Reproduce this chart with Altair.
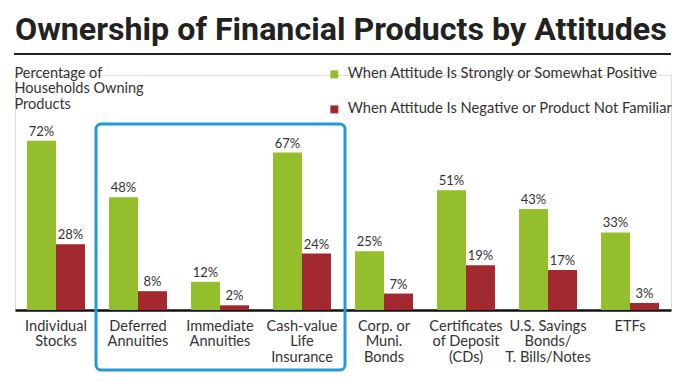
import json
import altair as alt
import pandas as pd

# ---- data ----
categories = [
    "Individual Stocks",
    "Deferred Annuities",
    "Immediate Annuities",
    "Cash-value Life Insurance",
    "Corp. or Muni. Bonds",
    "Certificates of Deposit (CDs)",
    "U.S. Savings Bonds/T. Bills/Notes",
    "ETFs",
]
label_lines = [
    ["Individual", "Stocks"],
    ["Deferred", "Annuities"],
    ["Immediate", "Annuities"],
    ["Cash-value", "Life", "Insurance"],
    ["Corp. or", "Muni.", "Bonds"],
    ["Certificates", "of Deposit", "(CDs)"],
    ["U.S. Savings", "Bonds/", "T. Bills/Notes"],
    ["ETFs"],
]
series = [
    "When Attitude Is Strongly or Somewhat Positive",
    "When Attitude Is Negative or Product Not Familiar",
]
positive = [72, 48, 12, 67, 25, 51, 43, 33]
negative = [28, 8, 2, 24, 7, 19, 17, 3]
colors = ["#95BE2C", "#A2292F"]

rows = []
for c, p, n in zip(categories, positive, negative):
    rows.append({"category": c, "series": series[0], "value": p})
    rows.append({"category": c, "series": series[1], "value": n})
df = pd.DataFrame(rows)

label_map = {c: l for c, l in zip(categories, label_lines)}
label_expr = json.dumps(label_map) + "[datum.value]"

FONT = "Lato"
TXT = "#333333"

x_enc = alt.X(
    "category:N",
    sort=categories,
    scale=alt.Scale(paddingInner=0.293, paddingOuter=0.1465),
    axis=alt.Axis(
        title=None,
        domain=True,
        domainColor="#111111",
        domainWidth=2.5,
        ticks=False,
        tickSize=0,
        labelAngle=0,
        labelFont=FONT,
        labelFontSize=14.6,
        labelColor=TXT,
        labelPadding=8,
        labelBaseline="top",
        labelLineHeight=15.8,
        labelExpr=label_expr,
        labelLimit=0,
        labelOverlap=False,
        grid=False,
    ),
)
y_enc = alt.Y(
    "value:Q",
    scale=alt.Scale(domain=[0, 100]),
    axis=alt.Axis(
        title=["Percentage of", "Households Owning", "Products"],
        labels=False,
        ticks=False,
        domain=False,
        grid=False,
        titleAngle=0,
        titleAlign="left",
        titleBaseline="top",
        titleX=-1,
        titleY=-9,
        titleFont=FONT,
        titleFontSize=14.5,
        titleFontWeight="normal",
        titleColor=TXT,
        titleLineHeight=15.5,
    ),
)
xoff = alt.XOffset("series:N", sort=series, scale=alt.Scale(paddingInner=0, paddingOuter=0))

base = alt.Chart(df)

bars = base.mark_bar().encode(
    x=x_enc,
    xOffset=xoff,
    y=y_enc,
    color=alt.Color(
        "series:N",
        sort=series,
        scale=alt.Scale(domain=series, range=colors),
        legend=alt.Legend(
            title=None,
            orient="none",
            legendX=312,
            legendY=-8,
            symbolType="square",
            symbolSize=64,
            symbolStrokeWidth=0,
            labelFont=FONT,
            labelFontSize=14.7,
            labelColor=TXT,
            labelOffset=6,
            labelLimit=0,
            rowPadding=19,
            padding=0,
        ),
    ),
)

labels = base.transform_calculate(lbl="datum.value + '%'").mark_text(
    baseline="alphabetic", dy=-5, font=FONT, fontSize=13, color=TXT
).encode(
    x=alt.X("category:N", sort=categories),
    xOffset=alt.XOffset("series:N", sort=series),
    y="value:Q",
    text="lbl:N",
)

one = pd.DataFrame({"k": [0]})

rule = alt.Chart(one).mark_rule(color="#222222", strokeWidth=2).encode(
    x=alt.value(-1), x2=alt.value(656), y=alt.value(-21)
)

box = alt.Chart(one).mark_rect(
    fillOpacity=0, stroke="#1E9AD6", strokeWidth=3, cornerRadius=5
).encode(x=alt.value(81), x2=alt.value(330), y=alt.value(49), y2=alt.value(295))

chart = (
    alt.layer(bars, labels, rule, box)
    .properties(
        width=656,
        height=235,
        autosize=alt.AutoSizeParams(type="none"),
        padding={"left": 7, "top": 67, "right": 3, "bottom": 70},
        title=alt.TitleParams(
            text="Ownership of Financial Products by Attitudes",
            anchor="start",
            frame="group",
            font="Roboto",
            fontSize=32.2,
            fontWeight="bold",
            color="#222222",
            baseline="alphabetic",
            offset=14,
            dy=33,
        ),
    )
    .configure_view(stroke=None)
    .configure(background="white")
)

chart.save("out.html", embed_options={"renderer": "svg", "actions": False})
